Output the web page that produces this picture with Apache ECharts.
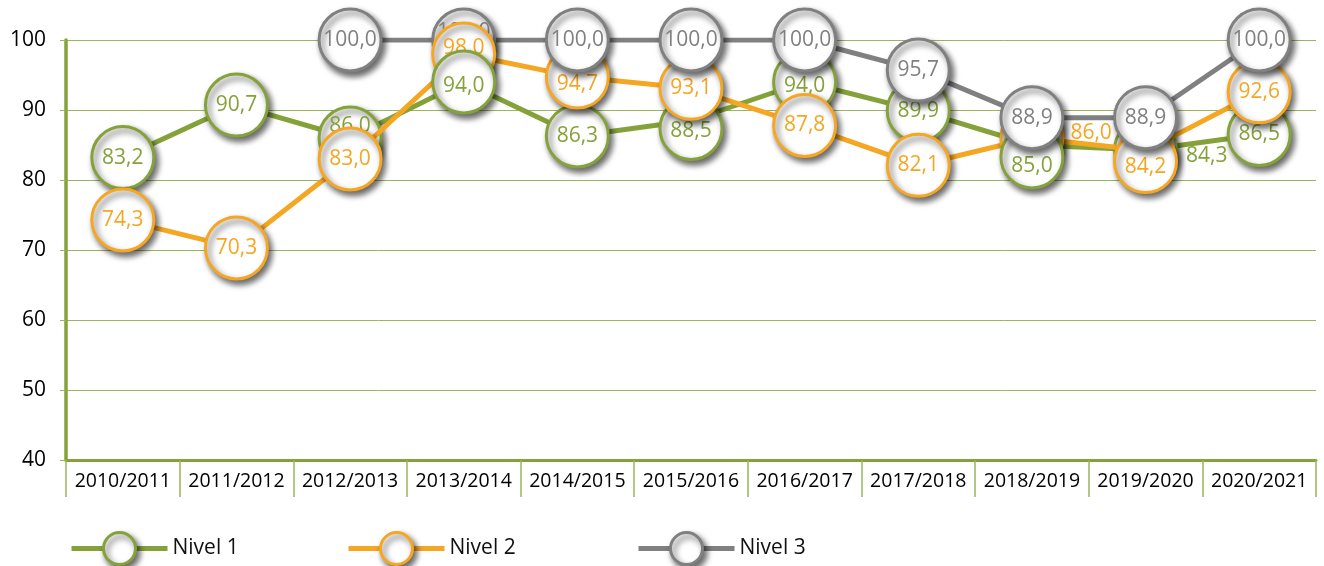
<!DOCTYPE html>
<html>
<head>
<meta charset="utf-8">
<title>Nivel</title>
<script src="https://cdn.jsdelivr.net/npm/echarts@6/dist/echarts.min.js"></script>
<style>
    html,body{margin:0;padding:0;background:#fff;}
    #chart{width:1324px;height:566px;}
</style>
</head>
<body>
<div id="chart"></div>
<script>
// 数据
var cursos = ['2010/2011','2011/2012','2012/2013','2013/2014','2014/2015','2015/2016','2016/2017','2017/2018','2018/2019','2019/2020','2020/2021'];
var nivel1 = [83.2, 90.7, 86.0, 94.0, 86.3, 88.5, 94.0, 89.9, 85.0, 84.3, 86.5];
var nivel2 = [74.3, 70.3, 83.0, 98.0, 94.7, 93.1, 87.8, 82.1, 86.0, 84.2, 92.6];
var nivel3 = ['-', '-', 100.0, 100.0, 100.0, 100.0, 100.0, 95.7, 88.9, 88.9, 100.0];
var yTicks = [40, 50, 60, 70, 80, 90, 100];

var verde = '#85a23a', naranja = '#f5a623', gris = '#808080', rejilla = '#9bb55c';
var fuente = '"Open Sans", sans-serif';
var tam = 62;

var series = {
    n1: {name: 'Nivel 1', data: nivel1, color: verde, z: 2},
    n2: {name: 'Nivel 2', data: nivel2, color: naranja, z: 3},
    n3: {name: 'Nivel 3', data: nivel3, color: gris, z: 4}
};
//这两列圆圈叠放顺序不同（从下到上）
var ordenEspecial = {
    3: ['n3', 'n2', 'n1'],
    8: ['n2', 'n1', 'n3']
};

//标签/圆圈微调
var ajustes = {
    n1: {2: {label: {offset: [0, -12]}}, 3: {label: {offset: [0, 4]}},
         5: {symbolOffset: [0, 8], label: {offset: [0, 3]}},
         6: {label: {offset: [0, 4]}},
         8: {symbolOffset: [0, 12], label: {offset: [0, 9]}},
         9: {label: {position: 'right', distance: 8, offset: [0, 6]}}},
    n2: {3: {label: {offset: [0, -6]}}, 4: {label: {offset: [0, 7]}},
         8: {label: {position: 'right', distance: 6, offset: [0, -5]}},
         9: {symbolOffset: [0, 11], label: {offset: [0, 5]}}},
    n3: {3: {label: {offset: [0, -8]}}}
};

var sombra = {shadowColor: 'rgba(0,0,0,0.6)', shadowBlur: 6, shadowOffsetX: 3, shadowOffsetY: 4};

function fmt(p){
    return p.value.toFixed(1).replace('.', ',');
}

function punto(key, i){
    var v = series[key].data[i];
    var item = {value: v};
    var aj = ajustes[key][i];
    if (aj) {
        if (aj.label) item.label = aj.label;
        if (aj.symbolOffset) item.symbolOffset = aj.symbolOffset;
    }
    return item;
}

function estiloPunto(color){
    return {
        symbol: 'circle',
        symbolSize: tam,
        itemStyle: Object.assign({color: '#fff', borderColor: color, borderWidth: 3, opacity: 1}, sombra),
        label: {show: true, position: 'inside', color: color, fontSize: 21, fontFamily: fuente, formatter: fmt},
        emphasis: {disabled: true},
        animation: false
    };
}

function lineSerie(key){
    var s = series[key];
    var d = s.data.map(function(v, i){
        if (v === '-') return '-';
        var item = punto(key, i);
        if (ordenEspecial[i]) {
            item.symbol = 'none';
            item.label = {show: false};
        }
        return item;
    });
    return Object.assign(estiloPunto(s.color), {
        name: s.name,
        type: 'line',
        z: s.z,
        data: d,
        lineStyle: {color: s.color, width: 5}
    });
}

function scatterSerie(key, col, z){
    var s = series[key];
    var d = s.data.map(function(v, i){
        return i === col ? punto(key, i) : '-';
    });
    return Object.assign(estiloPunto(s.color), {
        name: s.name,
        type: 'scatter',
        z: z,
        data: d
    });
}

var lista = [lineSerie('n1'), lineSerie('n2'), lineSerie('n3')];
for (var col in ordenEspecial) {
    var orden = ordenEspecial[col];
    for (var k = 0; k < orden.length; k++) {
        lista.push(scatterSerie(orden[k], parseInt(col), 5 + k));
    }
}

//图例：每项单独定位
function leyenda(name, left){
    return {
        left: left,
        top: 531,
        padding: 0,
        itemWidth: 96,
        itemHeight: 40,
        data: [name],
        lineStyle: {width: 5},
        itemStyle: Object.assign({color: '#fff', borderWidth: 3}, sombra),
        textStyle: {fontSize: 21, color: '#111', fontFamily: fuente},
        selectedMode: false
    };
}

var option = {
    animation: false,
    grid: {left: 66, right: 8, top: 40, bottom: 106},
    legend: [leyenda('Nivel 1', 69), leyenda('Nivel 2', 346), leyenda('Nivel 3', 636)],
    xAxis: {
        type: 'category',
        data: cursos,
        boundaryGap: true,
        axisLine: {lineStyle: {color: verde, width: 3}},
        axisTick: {show: true, interval: 0, length: 37, lineStyle: {color: rejilla, width: 1.5}},
        axisLabel: {interval: 0, color: '#000', fontSize: 19.5, fontFamily: fuente, margin: 11}
    },
    yAxis: {
        type: 'value',
        min: yTicks[0],
        max: yTicks[yTicks.length - 1],
        interval: 10,
        axisLine: {show: true, lineStyle: {color: verde, width: 3.5}},
        axisTick: {show: true, length: 6, lineStyle: {color: rejilla}},
        splitLine: {lineStyle: {color: rejilla, width: 1}},
        axisLabel: {color: '#000', fontSize: 21, fontFamily: fuente, margin: 20}
    },
    series: lista
};

var myChart = echarts.init(document.getElementById('chart'));
myChart.setOption(option);
</script>
</body>
</html>
